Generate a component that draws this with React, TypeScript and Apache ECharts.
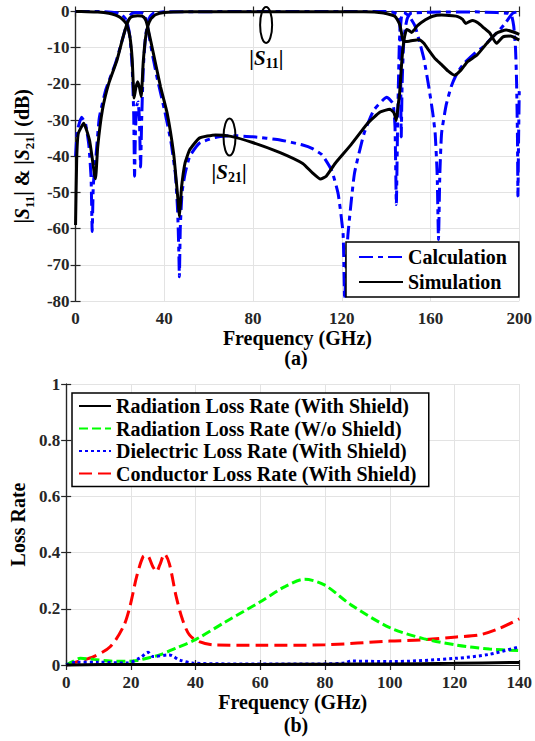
import React, { useEffect, useRef } from "react";
import * as echarts from "echarts";

// ---------- (a) S-parameters ----------
const calcS11F = [0, 10, 18, 21, 22.5, 23.5, 24.5, 25.5, 26.2, 26.6, 27, 27.6, 28.2, 28.8, 29.3, 29.8, 30.5, 31.5, 32.5, 33.5, 35, 40, 100, 140, 143, 145, 146, 146.4, 146.8, 147.2, 147.8, 148.5, 149.5, 151, 160, 180, 190, 195, 196.5, 197.5, 198.3, 198.8, 199.2, 199.4, 199.7, 200];
const calcS11DB = [0, 0, -0.3, -1, -2, -3.6, -7, -15, -28, -45.5, -33, -26, -25, -30, -43, -30, -16, -7, -3.5, -1.5, -0.5, -0.1, 0, 0, -0.2, -0.8, -2, -8, -34.7, -20, -10, -5, -2, -0.5, -0.2, -0.1, -0.3, -0.5, -1, -4, -10, -19.5, -35, -51, -35, -22];

const calcS21F = [0, 0.8, 2.7, 4.5, 6, 7, 7.5, 8, 9.2, 10.7, 13.6, 18, 21, 23, 24, 25.5, 28, 30.5, 31.5, 32.3, 33.5, 35, 37, 40, 43, 45, 46, 46.5, 46.8, 47.2, 48, 49.3, 51.4, 55.8, 63, 70.4, 79.8, 92.2, 102.4, 106.8, 111.1, 115.5, 118.4, 120.6, 121.3, 122, 122.8, 125.7, 130, 134.4, 140.3, 143.1, 144, 144.6, 145.2, 146, 147, 148, 150.4, 153, 154.8, 157, 159.2, 161, 162.1, 163, 163.6, 164.2, 165, 167, 169.3, 172, 175.2, 180, 183.9, 188, 191.2, 194, 197, 200];
const calcS21DB = [-40, -33, -29.2, -31, -37, -46, -60.8, -48, -40, -29.4, -21.7, -14.3, -8, -3.6, -1.5, -0.5, -0.3, -0.5, -1.5, -3.6, -8, -13, -19, -27, -36, -45, -55, -65, -73.3, -60, -50, -45, -40.1, -36.4, -34.8, -34.3, -34.6, -35.5, -36.9, -37.9, -39.6, -44, -50.5, -61.5, -79.5, -70, -61.5, -44.8, -33.8, -27.3, -23.7, -25.5, -32, -53.3, -30, -8, -1, -0.3, -1.3, -4, -7.8, -13, -20.7, -28, -33.7, -45, -63, -45, -33.6, -26, -20.8, -17, -14.3, -11.5, -9.7, -7, -5.1, -3, -0.5, 0];

const simS11F = [0, 5, 10, 15, 18, 20, 22, 23.1, 24.5, 25.5, 26.4, 27.2, 28, 28.8, 29.6, 30.5, 31.5, 32.5, 34, 36, 40, 50, 100, 130, 138.8, 142, 143.9, 145, 146.1, 146.8, 147.5, 148.5, 150.4, 152, 154.8, 157, 159.2, 162, 165, 168, 170.8, 173.7, 176.6, 181, 185.4, 189.7, 194.1, 197, 200];
const simS11DB = [0, -0.05, -0.15, -0.5, -1, -1.6, -2.7, -3.6, -7, -13, -23.9, -21, -19.4, -21, -23.5, -14, -7.5, -4.2, -2, -0.9, -0.3, -0.1, -0.05, -0.1, -0.4, -0.9, -1.3, -2.2, -3.6, -5.5, -7.8, -8.3, -8.2, -8, -7.8, -8.8, -10.7, -13, -14.7, -16.5, -17.6, -16.2, -13.9, -12, -8.8, -6, -5.1, -5.6, -6.3];

const simS21F = [0, 0.5, 1.2, 3.7, 6.3, 8.5, 9, 10, 12.1, 15, 18.7, 21, 23.1, 24.5, 26, 28, 30, 31.5, 32.5, 35.4, 38.3, 41.3, 44.2, 45.6, 46.3, 46.8, 47.3, 47.8, 49.3, 51.4, 55.8, 63.1, 70, 79.8, 92.2, 102.4, 106.8, 110.4, 113, 117, 124.2, 131.5, 137.3, 141.7, 143.5, 144.6, 145.4, 146.1, 146.8, 147.5, 148.3, 149.2, 150.4, 151.5, 152.5, 154, 157.7, 161, 165, 170, 172.3, 174.5, 175.9, 177.5, 179, 181.5, 184, 186.8, 189.7, 192.7, 196, 200];
const simS21DB = [-59, -41, -33.8, -30.9, -35.6, -44.9, -46.2, -37.3, -27.2, -19.8, -13.4, -8, -3.6, -1.8, -1.3, -1.2, -1.3, -2.2, -4.2, -12.5, -20.8, -28.1, -39.2, -48.2, -53, -56.7, -53, -48.4, -42, -38.3, -35, -34.1, -34.5, -36.2, -39, -42, -44.6, -46.3, -45.5, -42, -36.8, -31, -27.8, -27, -28, -30.1, -26, -22.4, -16, -10.5, -7, -5, -5.3, -5.8, -5.2, -4, -2.3, -1.3, -1, -1.2, -1.4, -2.2, -3.3, -2.8, -2.5, -3.2, -4.5, -6, -8.8, -7, -6.8, -7.9];

// annotation anchors [GHz, dB]
const s11Ellipse = [85.9, -3.7];
const s11Label = [86, -12.8];
const s21Ellipse = [69.4, -34.7];
const s21Label = [69.2, -44.3];

// ---------- (b) Loss rates ----------
const condF = [0, 4.4, 8.5, 13.6, 17.7, 19.7, 21.8, 23.8, 25, 26.8, 27.9, 28.9, 30.4, 31.9, 34, 36, 38.1, 41.1, 46.2, 60, 80, 100, 110.4, 120.6, 127.7, 133.8, 140];
const condV = [0, 0.015, 0.03, 0.065, 0.137, 0.208, 0.315, 0.386, 0.39, 0.35, 0.332, 0.355, 0.395, 0.36, 0.243, 0.16, 0.107, 0.083, 0.071, 0.07, 0.072, 0.085, 0.09, 0.1, 0.107, 0.13, 0.164];

const radNoF = [0, 2, 4.4, 8.5, 13.6, 18, 21.8, 25, 28.9, 34, 40.1, 49.3, 60, 67.6, 73.7, 79.8, 88, 100, 110.4, 120.6, 130.8, 140];
const radNoV = [0, 0.012, 0.024, 0.02, 0.014, 0.013, 0.016, 0.024, 0.036, 0.06, 0.091, 0.154, 0.225, 0.279, 0.305, 0.285, 0.214, 0.133, 0.094, 0.071, 0.057, 0.051];

const dielF = [0, 3, 10, 18.7, 22.8, 25.3, 26.8, 31.9, 35, 39.1, 50, 80, 86, 88, 100, 120.6, 130.8, 140];
const dielV = [0, 0.01, 0.01, 0.007, 0.025, 0.045, 0.03, 0.036, 0.018, 0.007, 0.004, 0.004, 0.007, 0.014, 0.012, 0.024, 0.038, 0.065];

const radShF = [0, 20, 40, 60, 80, 100, 120, 140];
const radShV = [0, 0.002, 0.002, 0.002, 0.003, 0.004, 0.006, 0.009];

const zip = (xs: number[], ys: number[]) => xs.map((x, i) => [x, ys[i]]);

const FONT = "'Liberation Serif', 'Times New Roman', serif";

export default function App() {
  const ref = useRef<HTMLDivElement>(null);
  useEffect(() => {
    const chart = echarts.init(ref.current!, null, { renderer: "svg" });
    const lbl = { color: "#262626", fontFamily: FONT, fontWeight: "bold", fontSize: 17 } as any;
    const axLine = { show: true, lineStyle: { color: "#262626", width: 1.2 } };
    const tick = { show: true, inside: true, length: 5, lineStyle: { color: "#262626", width: 1.2 } };
    const split = { show: true, lineStyle: { color: "#e3e3e3", width: 1 } };
    const nameStyle = { color: "#000", fontFamily: FONT, fontWeight: "bold", fontSize: 20, lineHeight: 18 } as any;

    const mirrorX = (grid: number, max: number, interval: number) => ({
      type: "value", gridIndex: grid, position: "top", min: 0, max, interval,
      axisLine: axLine, axisTick: tick, axisLabel: { show: false }, splitLine: { show: false },
    });
    const mirrorY = (grid: number, min: number, max: number, interval: number) => ({
      type: "value", gridIndex: grid, position: "right", min, max, interval,
      axisLine: axLine, axisTick: tick, axisLabel: { show: false }, splitLine: { show: false },
    });

    const blue = "#0000ff";
    const topSeries = (name: string, data: number[][], color: string, type: any) => ({
      name, type: "line", xAxisIndex: 0, yAxisIndex: 0, data, showSymbol: false, symbol: "none",
      smooth: 0.15, clip: false,
      lineStyle: { color, width: 3, type }, itemStyle: { color },
    });
    const botSeries = (name: string, data: number[][], color: string, type: any, z: number) => ({
      name, type: "line", xAxisIndex: 2, yAxisIndex: 2, data, showSymbol: false, symbol: "none",
      smooth: 0.3, clip: false, z,
      lineStyle: { color, width: 3, type }, itemStyle: { color },
    });

    const option: any = {
      animation: false,
      backgroundColor: "#fff",
      grid: [
        { left: 65.5, width: 458, top: 11.5, height: 289.5, containLabel: false },
        { left: 65.5, width: 458, top: 384, height: 281, containLabel: false },
      ],
      xAxis: [
        {
          type: "value", gridIndex: 0, min: 0, max: 200, interval: 40,
          axisLine: axLine, axisTick: tick, splitLine: split, axisLabel: { ...lbl, margin: 9 },
          name: "Frequency (GHz)", nameLocation: "middle", nameGap: 27, nameTextStyle: nameStyle,
        },
        mirrorX(0, 200, 40),
        {
          type: "value", gridIndex: 1, min: 0, max: 140, interval: 20,
          axisLine: axLine, axisTick: tick, splitLine: split, axisLabel: { ...lbl, margin: 9 },
          name: "Frequency (GHz)", nameLocation: "middle", nameGap: 27, nameTextStyle: nameStyle,
        },
        mirrorX(1, 140, 20),
      ],
      yAxis: [
        {
          type: "value", gridIndex: 0, min: -80, max: 0, interval: 10,
          axisLine: axLine, axisTick: tick, splitLine: split, axisLabel: { ...lbl, margin: 6 },
          name: "{t||}{i|S}{s|11}{t|| & |}{i|S}{s|21}{t|| (dB)}",
          nameLocation: "middle", nameGap: 30, nameRotate: 90,
          nameTextStyle: {
            ...nameStyle,
            rich: {
              t: { fontFamily: FONT, fontWeight: "bold", fontSize: 20, color: "#000", lineHeight: 28, verticalAlign: "middle" },
              i: { fontFamily: FONT, fontWeight: "bold", fontStyle: "italic", fontSize: 20, color: "#000", lineHeight: 28, verticalAlign: "middle" },
              s: { fontFamily: FONT, fontWeight: "bold", fontSize: 13, color: "#000", lineHeight: 28, verticalAlign: "bottom" },
            },
          },
        },
        mirrorY(0, -80, 0, 10),
        {
          type: "value", gridIndex: 1, min: 0, max: 1, interval: 0.2,
          axisLine: axLine, axisTick: tick, splitLine: split, axisLabel: { ...lbl, margin: 6 },
          name: "Loss Rate", nameLocation: "middle", nameGap: 31, nameRotate: 90, nameTextStyle: nameStyle,
        },
        mirrorY(1, 0, 1, 0.2),
      ],
      legend: [
        {
          data: ["Calculation", "Simulation"], orient: "vertical", left: 346, top: 242,
          itemWidth: 44, itemHeight: 12, itemGap: 1, padding: [3, 12, 3, 12],
          itemStyle: { opacity: 0 },
          backgroundColor: "#fff", borderColor: "#000", borderWidth: 1.5, borderRadius: 0,
          textStyle: { fontFamily: FONT, fontWeight: "bold", fontSize: 20, color: "#000", lineHeight: 24 },
        },
        {
          data: ["Radiation Loss Rate (With Shield)", "Radiation Loss Rate (W/o Shield)", "Dielectric Loss Rate (With Shield)", "Conductor Loss Rate (With Shield)"],
          orient: "vertical", left: 72, top: 393,
          itemWidth: 32, itemHeight: 12, itemGap: 0.5, padding: [2, 12, 2, 6],
          itemStyle: { opacity: 0 },
          backgroundColor: "#fff", borderColor: "#000", borderWidth: 1.5, borderRadius: 0,
          textStyle: { fontFamily: FONT, fontWeight: "bold", fontSize: 20, color: "#000", lineHeight: 22 },
        },
      ],
      series: [
        topSeries("Calculation", zip(calcS11F, calcS11DB), blue, [14, 5, 5, 5]),
        topSeries("Calculation", zip(calcS21F, calcS21DB), blue, [14, 5, 5, 5]),
        topSeries("Simulation", zip(simS11F, simS11DB), "#000", "solid"),
        topSeries("Simulation", zip(simS21F, simS21DB), "#000", "solid"),
        botSeries("Radiation Loss Rate (With Shield)", zip(radShF, radShV), "#000", "solid", 5),
        botSeries("Radiation Loss Rate (W/o Shield)", zip(radNoF, radNoV), "#00ff00", [9, 4], 3),
        botSeries("Dielectric Loss Rate (With Shield)", zip(dielF, dielV), blue, [3, 3], 4),
        botSeries("Conductor Loss Rate (With Shield)", zip(condF, condV), "#ff0000", [13, 6], 2),
      ],
    };
    chart.setOption(option);

    const px = (p: number[]) => chart.convertToPixel({ gridIndex: 0 } as any, p) as number[];
    const e1 = px(s11Ellipse), l1 = px(s11Label), e2 = px(s21Ellipse), l2 = px(s21Label);
    const richLbl = {
      t: { fontFamily: FONT, fontWeight: "bold", fontSize: 21, fill: "#000", lineHeight: 26, verticalAlign: "middle" },
      i: { fontFamily: FONT, fontWeight: "bold", fontStyle: "italic", fontSize: 21, fill: "#000", lineHeight: 26, verticalAlign: "middle" },
      s: { fontFamily: FONT, fontWeight: "bold", fontSize: 14, fill: "#000", lineHeight: 26, verticalAlign: "bottom" },
    };
    chart.setOption({
      graphic: [
        { type: "ellipse", shape: { cx: e1[0], cy: e1[1], rx: 6, ry: 18 }, style: { fill: "none", stroke: "#000", lineWidth: 2 }, z: 100 },
        { type: "ellipse", shape: { cx: e2[0], cy: e2[1], rx: 6, ry: 18.5 }, style: { fill: "none", stroke: "#000", lineWidth: 2 }, z: 100 },
        { type: "text", x: l1[0], y: l1[1], z: 100, style: { text: "{t||}{i|S}{s|11}{t||}", rich: richLbl, align: "center", verticalAlign: "middle" } },
        { type: "text", x: l2[0], y: l2[1], z: 100, style: { text: "{t||}{i|S}{s|21}{t||}", rich: richLbl, align: "center", verticalAlign: "middle" } },
        { type: "text", x: 296, y: 358, z: 100, style: { text: "(a)", fontFamily: FONT, fontWeight: "bold", fontSize: 20, lineHeight: 18, fill: "#000", align: "center", verticalAlign: "middle" } },
        { type: "text", x: 296, y: 725, z: 100, style: { text: "(b)", fontFamily: FONT, fontWeight: "bold", fontSize: 20, lineHeight: 18, fill: "#000", align: "center", verticalAlign: "middle" } },
      ],
    });

    return () => chart.dispose();
  }, []);
  return <div ref={ref} style={{ position: "fixed", left: 0, top: 0, width: 535, height: 741 }} />;
}
